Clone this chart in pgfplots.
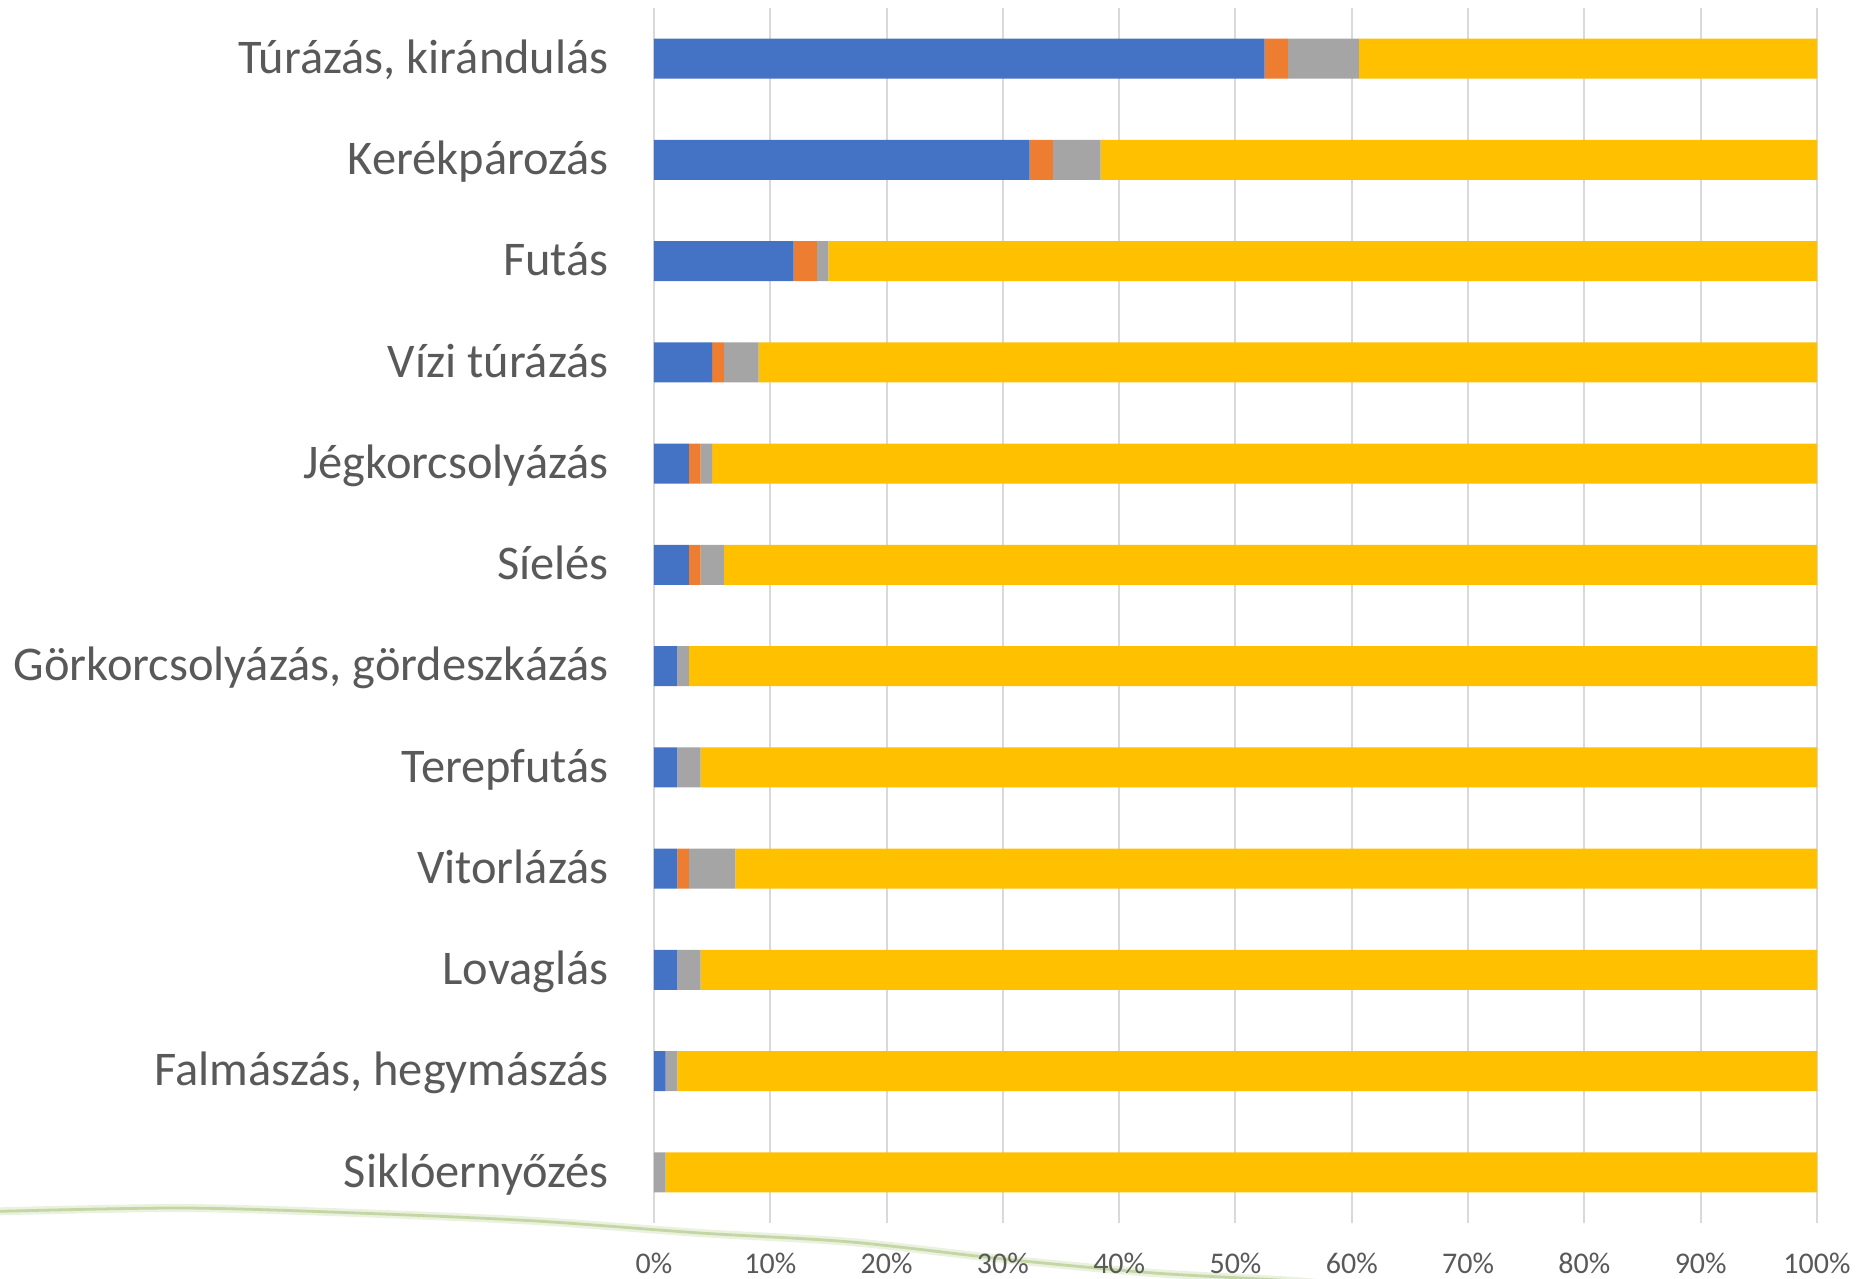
\documentclass[border=0pt]{standalone}
\usepackage{fontspec}
\setmainfont{Carlito}
\usepackage{pgfplots}
\pgfplotsset{compat=1.18}
\definecolor{cblue}{HTML}{4472C4}
\definecolor{corange}{HTML}{ED7D31}
\definecolor{cgray}{HTML}{A5A5A5}
\definecolor{cyellow}{HTML}{FFC000}
\definecolor{textgray}{HTML}{595959}
\definecolor{gridgray}{HTML}{D9D9D9}
\definecolor{curvegreen}{HTML}{C4D6A4}
\begin{document}
\begin{tikzpicture}
\begin{scope}
\clip (-327pt,-28pt) rectangle (601.5pt,611.5pt);
\draw[color=curvegreen!35, line width=4pt, line cap=round] plot[smooth] coordinates {(-340pt,5.5pt) (-237.5pt,7.5pt) (-148.5pt,5pt) (-59pt,1pt) (23pt,-5pt) (98.5pt,-9.5pt) (174.5pt,-18pt) (250pt,-25pt) (320pt,-29pt) (360pt,-33pt)};
\draw[color=curvegreen, line width=1.4pt, line cap=round] plot[smooth] coordinates {(-340pt,5.5pt) (-237.5pt,7.5pt) (-148.5pt,5pt) (-59pt,1pt) (23pt,-5pt) (98.5pt,-9.5pt) (174.5pt,-18pt) (250pt,-25pt) (320pt,-29pt) (360pt,-33pt)};
\end{scope}
\begin{axis}[
  at={(0,0)}, anchor=south west,
  scale only axis, width=581.5pt, height=607.5pt,
  xbar stacked, bar width=20pt,
  xmin=0, xmax=100, ymin=-0.5, ymax=11.5, y dir=reverse,
  ytick={0,...,11},
  yticklabels={{Túrázás, kirándulás},Kerékpározás,Futás,{Vízi túrázás},Jégkorcsolyázás,Síelés,{Görkorcsolyázás, gördeszkázás},Terepfutás,Vitorlázás,Lovaglás,{Falmászás, hegymászás},Siklóernyőzés},
  xtick={0,10,...,100},
  xticklabels={0\%,10\%,20\%,30\%,40\%,50\%,60\%,70\%,80\%,90\%,100\%},
  xmajorgrids, ymajorgrids=false,
  grid style={color=gridgray, line width=1pt},
  axis line style={draw=none}, major tick length=0pt,
  yticklabel style={font=\fontsize{24.2}{29}\selectfont, color=textgray, anchor=base east, inner sep=0pt, xshift=-22.5pt, yshift=-7.4pt},
  xticklabel style={font=\fontsize{15}{18}\selectfont, color=textgray, anchor=base, inner sep=0pt, yshift=-25pt},
]
\addplot[fill=cblue, draw=none] coordinates {(52.5,0) (32.3,1) (12,2) (5,3) (3,4) (3,5) (2,6) (2,7) (2,8) (2,9) (1,10) (0,11)};
\addplot[fill=corange, draw=none] coordinates {(2,0) (2,1) (2,2) (1,3) (1,4) (1,5) (0,6) (0,7) (1,8) (0,9) (0,10) (0,11)};
\addplot[fill=cgray, draw=none] coordinates {(6.1,0) (4.1,1) (1,2) (3,3) (1,4) (2,5) (1,6) (2,7) (4,8) (2,9) (1,10) (1,11)};
\addplot[fill=cyellow, draw=none] coordinates {(39.4,0) (61.6,1) (85,2) (91,3) (95,4) (94,5) (97,6) (96,7) (93,8) (96,9) (98,10) (99,11)};
\end{axis}
\pgfresetboundingbox
\path[use as bounding box] (-327pt,-28pt) rectangle (601.5pt,611.5pt);
\end{tikzpicture}
\end{document}
